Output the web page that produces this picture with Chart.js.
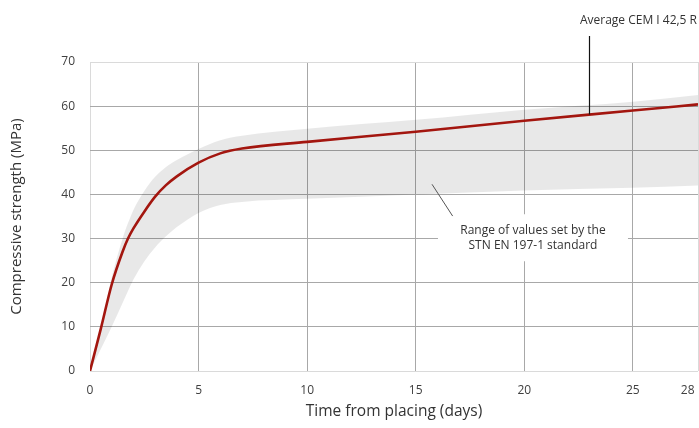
<!DOCTYPE html>
<html>
<head>
<meta charset="utf-8">
<script src="https://cdn.jsdelivr.net/npm/chart.js@4/dist/chart.umd.min.js"></script>
<style>
    html, body { margin: 0; padding: 0; background: #fff; }
    #wrap { width: 699px; height: 428px; }
</style>
</head>
<body>
<div id="wrap"><canvas id="strengthChart"></canvas></div>
<script>
// values (days / MPa)
const days =            [0, 0.5, 1,    1.5,  1.75, 2,    2.5,  3,    3.5,  4,    5,    6,    7,    10,   15,   20,   25,   28];
const averageStrength = [0, 9.6, 19.6, 27,   30,   32.3, 36.1, 39.5, 42.1, 44.1, 47.2, 49.3, 50.4, 51.9, 54.2, 56.7, 59,   60.4];
const rangeUpper =      [0, 10,  21.2, 30,   33.5, 36.5, 40.8, 44,   46.2, 47.8, 50.3, 52.3, 53.3, 54.9, 56.9, 59.2, 61,   62.5];
const rangeLower =      [0, 5,   10,   15.4, 18.1, 20.7, 24.8, 28,   30.5, 32.6, 35.8, 37.6, 38.3, 39,   40,   40.9, 41.5, 42];
const xTickValues = [0, 5, 10, 15, 20, 25, 28];

const averageLabel = 'Average CEM I 42,5 R';
const rangeLabel = ['Range of values set by the', 'STN EN 197-1 standard'];

const FONT = "'Open Sans', 'DejaVu Sans', sans-serif";
const gridDark = '#a8a8a8';
const gridLight = '#dadada';

function toPoints(values) {
    return days.map((d, i) => ({ x: d, y: values[i] }));
}

// callouts drawn on top of the chart
const calloutPlugin = {
    id: 'callouts',
    afterDraw(chart) {
        const ctx = chart.ctx;
        const xs = chart.scales.x;
        const ys = chart.scales.y;
        ctx.save();

        // average curve pointer
        const ax = Math.round(xs.getPixelForValue(23)) + 0.5;
        ctx.strokeStyle = '#111';
        ctx.lineWidth = 1.2;
        ctx.beginPath();
        ctx.moveTo(ax, ys.getPixelForValue(58.1));
        ctx.lineTo(ax, chart.chartArea.top - 26);
        ctx.stroke();
        ctx.fillStyle = '#333';
        ctx.font = '12px ' + FONT;
        ctx.textAlign = 'right';
        ctx.textBaseline = 'middle';
        ctx.fillText(averageLabel, chart.width - 2, chart.chartArea.top - 41);

        // range note box
        const bx = xs.getPixelForValue(20.4);
        const by = ys.getPixelForValue(30.3);
        ctx.fillStyle = '#fff';
        ctx.fillRect(bx - 95, by - 23, 190, 47);
        ctx.fillStyle = '#333';
        ctx.textAlign = 'center';
        ctx.fillText(rangeLabel[0], bx, by - 7);
        ctx.fillText(rangeLabel[1], bx, by + 8);

        ctx.strokeStyle = '#555';
        ctx.lineWidth = 1;
        ctx.beginPath();
        ctx.moveTo(xs.getPixelForValue(15.75), ys.getPixelForValue(42.3));
        ctx.lineTo(xs.getPixelForValue(16.7), ys.getPixelForValue(35.1));
        ctx.stroke();
        ctx.restore();
    }
};

const ctx = document.getElementById('strengthChart').getContext('2d');
new Chart(ctx, {
    type: 'line',
    data: {
        datasets: [
            {
                label: 'Upper limit',
                data: toPoints(rangeUpper),
                borderWidth: 0,
                pointRadius: 0,
                backgroundColor: 'rgba(0, 0, 0, 0.09)',
                fill: '+1',
                cubicInterpolationMode: 'monotone',
                order: 2
            },
            {
                label: 'Lower limit',
                data: toPoints(rangeLower),
                borderWidth: 0,
                pointRadius: 0,
                fill: false,
                cubicInterpolationMode: 'monotone',
                order: 3
            },
            {
                label: averageLabel,
                data: toPoints(averageStrength),
                borderColor: '#a3160f',
                borderWidth: 2.6,
                pointRadius: 0,
                fill: false,
                cubicInterpolationMode: 'monotone',
                order: 1
            }
        ]
    },
    options: {
        responsive: true,
        maintainAspectRatio: false,
        animation: false,
        events: [],
        layout: { padding: { top: 62, right: 1, left: 0, bottom: 0 } },
        plugins: {
            legend: { display: false },
            tooltip: { enabled: false }
        },
        scales: {
            x: {
                type: 'linear',
                min: 0,
                max: 28,
                afterBuildTicks: (scale) => {
                    scale.ticks = xTickValues.map(v => ({ value: v }));
                },
                afterFit: (scale) => {
                    scale.height = 57;
                    scale.paddingRight = 0;
                    scale.paddingLeft = 0;
                },
                border: { display: false },
                grid: {
                    drawTicks: false,
                    color: (c) => (c.tick && (c.tick.value === 0 || c.tick.value === 28)) ? gridLight : gridDark,
                    lineWidth: 1
                },
                ticks: {
                    padding: 12,
                    color: '#404040',
                    font: { family: FONT, size: 12 },
                    maxRotation: 0,
                    autoSkip: false,
                    callback: (v) => v === 28 ? '28\u2007\u2007\u2007' : String(v)
                },
                title: {
                    display: true,
                    text: 'Time from placing (days)',
                    color: '#333',
                    font: { family: FONT, size: 15.5 },
                    padding: { top: 0, bottom: 7 }
                }
            },
            y: {
                min: 0,
                max: 70,
                afterFit: (scale) => { scale.width = 90; },
                border: { display: false },
                grid: {
                    drawTicks: false,
                    color: (c) => (c.tick && (c.tick.value === 0 || c.tick.value === 70)) ? gridLight : gridDark,
                    lineWidth: 1
                },
                ticks: {
                    stepSize: 10,
                    padding: 15,
                    color: '#404040',
                    font: { family: FONT, size: 12 }
                },
                title: {
                    display: true,
                    text: 'Compressive strength (MPa)',
                    color: '#333',
                    font: { family: FONT, size: 15 },
                    padding: { top: 8, bottom: 0 }
                }
            }
        }
    },
    plugins: [calloutPlugin]
});
</script>
</body>
</html>
